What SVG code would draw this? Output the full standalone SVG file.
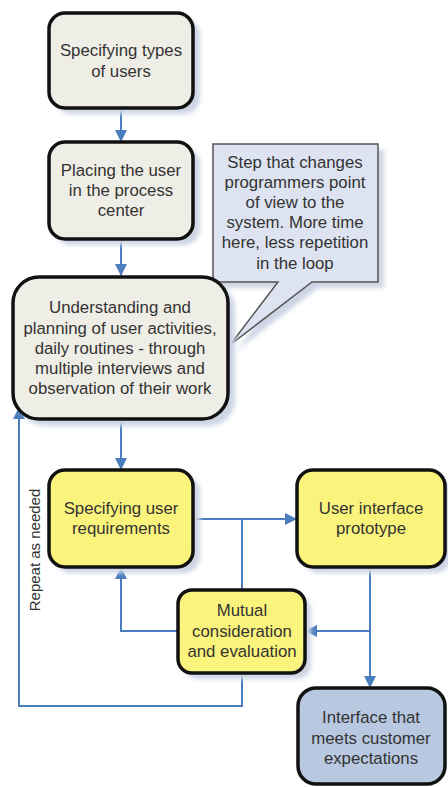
<svg xmlns="http://www.w3.org/2000/svg" width="448" height="787" viewBox="0 0 448 787">
<defs>
<marker id="arr" markerUnits="userSpaceOnUse" markerWidth="12" markerHeight="12" refX="11" refY="6" orient="auto" viewBox="0 0 12 12">
<path d="M0,0 L12,6 L0,12 z" fill="#4a7ebf"/>
</marker>
<filter id="blur" x="-10%" y="-10%" width="130%" height="130%"><feGaussianBlur stdDeviation="2"/></filter>
</defs>
<style>
.shadow{fill:#cdd5e5;filter:url(#blur)}
.node{stroke:#111;stroke-width:3.5}
.gray{fill:#efeee6}
.yellow{fill:#fbf47c}
.blue{fill:#b8c8e0}
.call{fill:#dde3f0;stroke:#555;stroke-width:1.5}
text{font-family:"Liberation Sans",Arial,sans-serif;font-size:16.8px;fill:#333;text-anchor:middle}
.conn path{fill:none;stroke:#4a7ebf;stroke-width:2}
</style>
<rect width="448" height="787" fill="#fff"/>

<g id="conns" class="conn">
<path d="M121,108 V141" marker-end="url(#arr)"/>
<path d="M121,239 V275" marker-end="url(#arr)"/>
<path d="M121,420 V469" marker-end="url(#arr)"/>
<path d="M193,519 H296" marker-end="url(#arr)"/>
<path d="M242,519 V590"/>
<path d="M370,567 V687" marker-end="url(#arr)"/>
<path d="M370,631 H306" marker-end="url(#arr)"/>
<path d="M178,631 H121 V568" marker-end="url(#arr)"/>
<path d="M242,673 V706 H19 V408" marker-end="url(#arr)"/>
</g>

<g id="n1">
<rect class="shadow" x="55" y="19" width="145" height="95" rx="16"/>
<rect class="node gray" x="49" y="13" width="144" height="95" rx="16"/>
<text x="121" y="56">Specifying types</text>
<text x="121" y="77">of users</text>
</g>

<g id="n2">
<rect class="shadow" x="55" y="148" width="145" height="97" rx="16"/>
<rect class="node gray" x="49" y="142" width="144" height="97" rx="16"/>
<text x="121" y="176">Placing the user</text>
<text x="121" y="196">in the process</text>
<text x="121" y="216">center</text>
</g>

<g id="callout">
<path class="shadow" d="M219,150 H384 V288 H318 L236,351 L284,288 H219 Z"/>
<path class="call" d="M213,144 H378 V282 H312 L230,345 L278,282 H213 Z"/>
<text x="295" y="168">Step that changes</text>
<text x="295" y="188">programmers point</text>
<text x="295" y="208">of view to the</text>
<text x="295" y="228">system. More time</text>
<text x="295" y="248">here, less repetition</text>
<text x="295" y="269">in the loop</text>
</g>

<g id="n3">
<rect class="shadow" x="19" y="283" width="216" height="143" rx="26"/>
<rect class="node gray" x="13" y="277" width="215" height="142" rx="26"/>
<text x="120" y="313">Understanding and</text>
<text x="120" y="334">planning of user activities,</text>
<text x="120" y="354">daily routines - through</text>
<text x="120" y="374">multiple interviews and</text>
<text x="120" y="394">observation of their work</text>
</g>

<g id="n4">
<rect class="shadow" x="55" y="476" width="145" height="97" rx="16"/>
<rect class="node yellow" x="49" y="470" width="144" height="97" rx="16"/>
<text x="121" y="514">Specifying user</text>
<text x="121" y="534">requirements</text>
</g>

<g id="n5">
<rect class="shadow" x="303" y="476" width="148" height="97" rx="16"/>
<rect class="node yellow" x="297" y="470" width="148" height="97" rx="16"/>
<text x="371" y="514">User interface</text>
<text x="371" y="534">prototype</text>
</g>

<g id="n6">
<rect class="shadow" x="184" y="596" width="127" height="83" rx="14"/>
<rect class="node yellow" x="178" y="590" width="127" height="83" rx="14"/>
<text x="242" y="616">Mutual</text>
<text x="242" y="637">consideration</text>
<text x="242" y="657">and evaluation</text>
</g>

<g id="n7">
<rect class="node blue" x="298" y="688" width="147" height="96" rx="18"/>
<text x="371" y="723">Interface that</text>
<text x="371" y="744">meets customer</text>
<text x="371" y="764">expectations</text>
</g>

<text x="0" y="0" transform="translate(40,550) rotate(-90)" style="font-size:15px">Repeat as needed</text>
</svg>
